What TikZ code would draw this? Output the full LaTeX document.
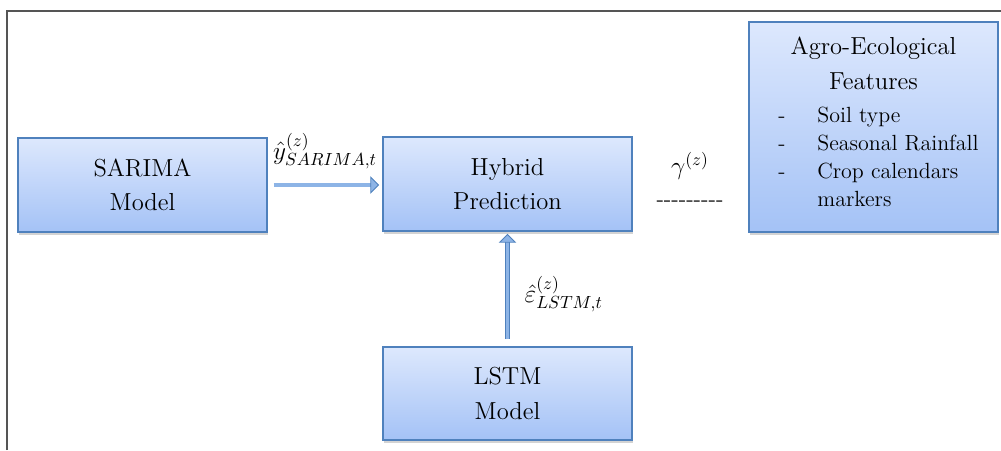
\documentclass[tikz,border=0pt]{standalone}
\usetikzlibrary{arrows.meta,shadows}
\definecolor{boxedge}{HTML}{4F81BD}
\definecolor{boxtop}{HTML}{DDE8FD}
\definecolor{boxbottom}{HTML}{A4C2F6}
\definecolor{arrowfill}{HTML}{8DB4E6}
\definecolor{framegray}{HTML}{555555}
\tikzset{
  modelbox/.style={draw=boxedge, line width=1pt, top color=boxtop, bottom color=boxbottom,
    minimum width=4.98cm, align=center, font=\fontsize{14}{19.5}\selectfont,
    drop shadow={opacity=.35, shadow xshift=.8pt, shadow yshift=-1.5pt}},
  flow/.style={draw=boxedge, line width=.5pt, double=arrowfill, double distance=1.8pt,
    -{Triangle[length=5pt,width=10pt,fill=arrowfill]}},
  mathlabel/.style={font=\fontsize{14}{17}\selectfont, inner sep=1pt},
}
\begin{document}
\begin{tikzpicture}[x=.02cm, y=-.02cm]
\useasboundingbox (0,0) rectangle (1001,450);
\draw[framegray, line width=.8pt] (7,450) -- (7,11) -- (1001,11);

\node[modelbox, minimum height=1.88cm] (sarima) at (142.5,185) {SARIMA\\Model};
\node[modelbox, minimum height=1.88cm] (hybrid) at (507.5,184) {Hybrid\\Prediction};
\node[modelbox, minimum height=1.86cm] (lstm) at (507.5,393.5) {LSTM\\Model};
\node[modelbox, minimum height=4.2cm] (agro) at (873.5,127) {};

\node[font=\fontsize{14}{19.8}\selectfont, align=center, inner sep=0, anchor=north]
    (agrotitle) at (873.5,37) {Agro-Ecological\\Features};
\node[font=\fontsize{12.5}{15.9}\selectfont, inner sep=0, anchor=north west] (agrolist) at (778,102.4)
    {\begin{tabular}{@{}p{.78cm}@{}l@{}}
     -&Soil type\\
     -&Seasonal Rainfall\\
     -&Crop calendars\\
      &markers
     \end{tabular}};

\draw[flow, shorten <=.12cm, shorten >=.06cm] (sarima.east) -- (sarima.east -| hybrid.west)
    node[mathlabel, midway, above=.28cm] (ylabel) {$\hat{y}^{(z)}_{SARIMA,t}$};
\draw[flow, shorten <=.14cm, shorten >=.04cm] (lstm.north) -- (hybrid.south)
    node[mathlabel, midway, right=.3cm, yshift=-.1cm] (elabel) {$\hat{\varepsilon}^{(z)}_{LSTM,t}$};

\node[mathlabel] (gamma) at (690,166) {$\gamma^{(z)}$};
\node[font=\fontsize{13}{15}\selectfont, inner sep=0] (dashes) at (690,204) {-{}-{}-{}-{}-{}-{}-{}-{}-};
\end{tikzpicture}
\end{document}
